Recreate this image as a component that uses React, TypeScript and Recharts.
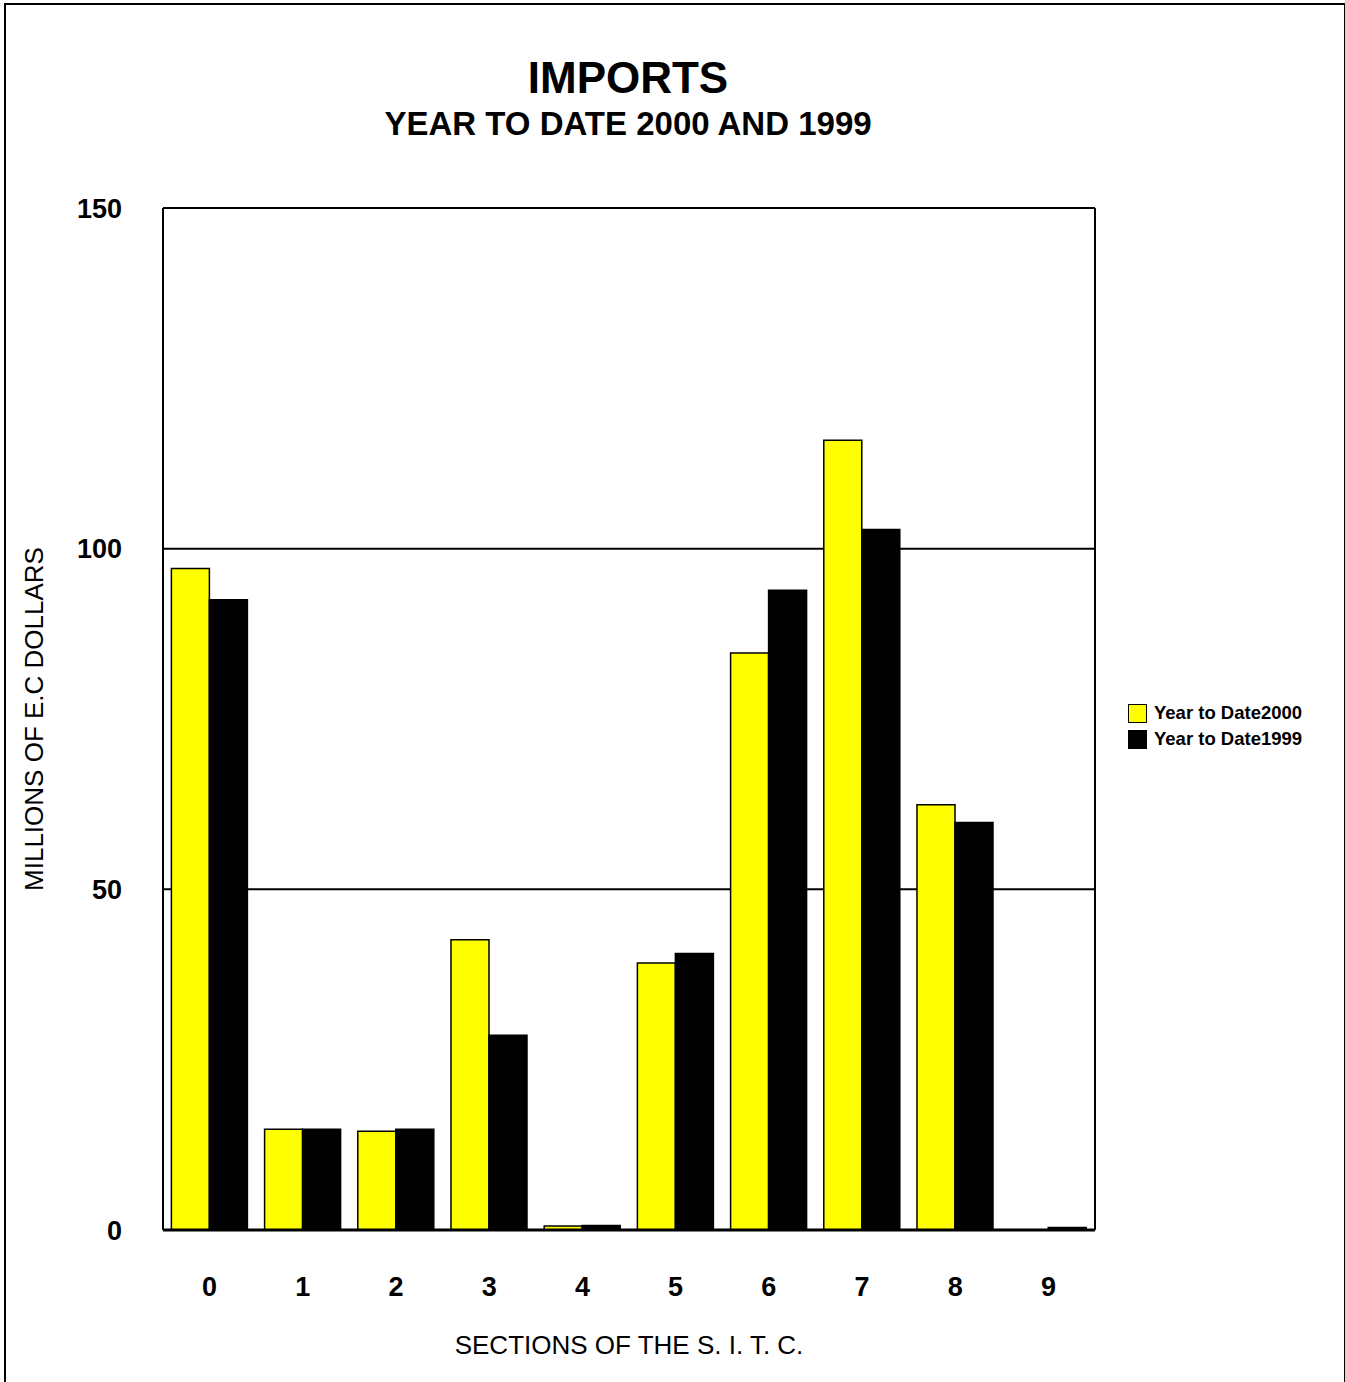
import React from 'react';
import { BarChart, Bar, XAxis, YAxis, CartesianGrid, Legend, Label } from 'recharts';

// SITC sections and values (millions of E.C. dollars)
const sections = ['0', '1', '2', '3', '4', '5', '6', '7', '8', '9'];
const ytd2000 = [97.1, 14.8, 14.5, 42.6, 0.6, 39.2, 84.7, 115.9, 62.4, 0];
const ytd1999 = [92.5, 14.8, 14.8, 28.6, 0.65, 40.6, 93.9, 102.8, 59.8, 0.35];
const seriesNames = ['Year to Date2000', 'Year to Date1999'];
const yTicks = [0, 50, 100, 150];

const FONT = "Arial, 'Liberation Sans', sans-serif";

const data = sections.map((s, i) => ({
  section: s,
  y2000: ytd2000[i],
  y1999: ytd1999[i],
}));

const renderLegend = (props: any) => {
  const payload = [...(props.payload || [])].sort(
    (a: any, b: any) => seriesNames.indexOf(a.value) - seriesNames.indexOf(b.value)
  );
  return (
    <div style={{ fontFamily: FONT, fontWeight: 'bold', fontSize: 18.5, color: '#000' }}>
      {payload.map((entry: any) => (
        <div key={entry.value} style={{ display: 'flex', alignItems: 'center', height: 26 }}>
          <span
            style={{
              display: 'inline-block',
              width: 17,
              height: 17,
              background: entry.color,
              border: '1.5px solid #000',
              marginRight: 7,
            }}
          />
          {entry.value}
        </div>
      ))}
    </div>
  );
};

const YLabel = (props: any) => {
  const { viewBox } = props;
  const cy = viewBox.y + viewBox.height / 2;
  const x = viewBox.x - 60;
  return (
    <text
      x={x}
      y={cy}
      transform={`rotate(-90, ${x}, ${cy})`}
      textAnchor="middle"
      fontFamily={FONT}
      fontSize={26}
      fill="#000"
    >
      MILLIONS OF E.C DOLLARS
    </text>
  );
};

export default function App() {
  return (
    <div style={{ position: 'absolute', left: 0, top: 0, width: 1345, height: 1382, background: '#fff' }}>
      <div
        style={{
          position: 'absolute',
          left: 4,
          top: 3,
          width: 1338,
          height: 1377,
          border: '2px solid #000',
          borderBottom: 'none',
        }}
      />
      <div
        style={{
          position: 'absolute',
          left: 0,
          top: 56,
          width: 1256,
          textAlign: 'center',
          fontFamily: FONT,
          fontWeight: 'bold',
          fontSize: 44,
          lineHeight: 1,
        }}
      >
        IMPORTS
      </div>
      <div
        style={{
          position: 'absolute',
          left: 0,
          top: 107,
          width: 1256,
          textAlign: 'center',
          fontFamily: FONT,
          fontWeight: 'bold',
          fontSize: 33,
          lineHeight: 1,
        }}
      >
        YEAR TO DATE 2000 AND 1999
      </div>
      <div style={{ position: 'absolute', left: 0, top: 0 }}>
        <BarChart
          width={1345}
          height={1382}
          data={data}
          margin={{ top: 208, right: 250, bottom: 22, left: 103 }}
          barCategoryGap="9%"
          barGap={0}
        >
          <CartesianGrid
            stroke="#000"
            strokeWidth={2}
            verticalCoordinatesGenerator={({ offset }: any) => [offset.left, offset.left + offset.width]}
          />
          <XAxis
            dataKey="section"
            height={130}
            tickLine={false}
            tickSize={0}
            tickMargin={47}
            axisLine={{ stroke: '#000', strokeWidth: 3 }}
            tick={{ fontSize: 27, fontWeight: 'bold', fill: '#000', fontFamily: FONT }}
          >
            <Label
              value="SECTIONS OF THE S. I. T. C."
              position="insideBottom"
              offset={6}
              fill="#000"
              fontSize={26}
              fontFamily={FONT}
            />
          </XAxis>
          <YAxis
            width={60}
            domain={[0, 150]}
            ticks={yTicks}
            interval={0}
            tickLine={false}
            tickSize={0}
            tickMargin={41}
            axisLine={{ stroke: '#000', strokeWidth: 2 }}
            tick={{ fontSize: 27, fontWeight: 'bold', fill: '#000', fontFamily: FONT }}
          >
            <Label content={<YLabel />} />
          </YAxis>
          <Legend
            layout="vertical"
            align="center"
            verticalAlign="middle"
            content={renderLegend}
            wrapperStyle={{ left: 1128, top: 700, width: 200, height: 52 }}
          />
          <Bar
            dataKey="y2000"
            name={seriesNames[0]}
            fill="#ffff00"
            stroke="#000"
            strokeWidth={1.5}
            isAnimationActive={false}
          />
          <Bar
            dataKey="y1999"
            name={seriesNames[1]}
            fill="#000000"
            stroke="#000"
            strokeWidth={1.5}
            isAnimationActive={false}
          />
        </BarChart>
      </div>
    </div>
  );
}
